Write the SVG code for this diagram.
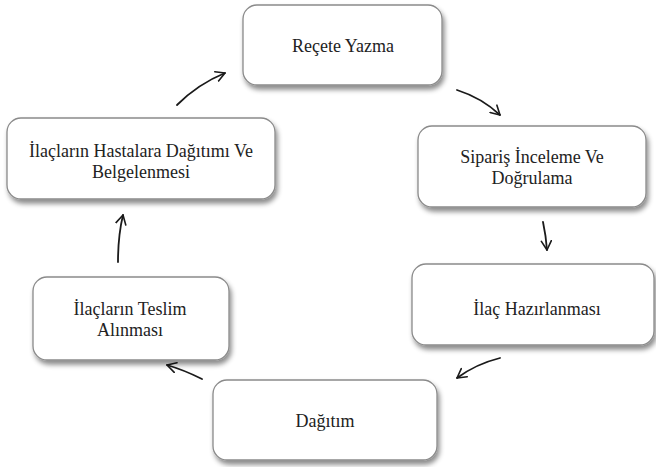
<svg xmlns="http://www.w3.org/2000/svg" width="656" height="467" viewBox="0 0 656 467">
<style>
.box{fill:#fff;stroke:#8a8a8a;stroke-width:1.3;filter:url(#sh)}
.t{font-size:18px;fill:#222;text-anchor:middle}
.c{fill:none;stroke:#1a1a1a;stroke-width:1.8;stroke-linecap:round;marker-end:url(#ah)}
</style>
<defs>
<filter id="sh" x="-10%" y="-10%" width="125%" height="140%">
<feDropShadow dx="2" dy="4" stdDeviation="2.5" flood-color="#000" flood-opacity="0.45"/>
</filter>
<marker id="ah" viewBox="0 0 12 12" refX="10" refY="6" markerWidth="12" markerHeight="12" orient="auto" markerUnits="userSpaceOnUse">
<path d="M1,1 L10,6 L1,11" fill="none" stroke="#1a1a1a" stroke-width="1.6" stroke-linecap="round" stroke-linejoin="round"/>
</marker>
</defs>
<rect width="656" height="467" fill="#fff"/>
<g id="connectors">
<path class="c" d="M177,105 Q198,84 225,73"/>
<path class="c" d="M457,90 Q482,98 500,115"/>
<path class="c" d="M543,222 Q546,236 547,250"/>
<path class="c" d="M500,358 Q476,364 457,378"/>
<path class="c" d="M202,379 Q184,370 167,365"/>
<path class="c" d="M118,262 Q118,236 123,215"/>
</g>
<g font-family="Liberation Serif, DejaVu Serif, serif">
<g id="n1"><rect class="box" x="243" y="5" width="199" height="80" rx="14"/><text class="t" x="343" y="52">Reçete Yazma</text></g>
<g id="n2"><rect class="box" x="418" y="126" width="228" height="81" rx="14"/><text class="t" x="532" y="163">Sipariş İnceleme  Ve</text><text class="t" x="532" y="184">Doğrulama</text></g>
<g id="n3"><rect class="box" x="412" y="264" width="242" height="81" rx="14"/><text class="t" x="537" y="315">İlaç Hazırlanması</text></g>
<g id="n4"><rect class="box" x="213" y="380" width="224" height="80" rx="14"/><text class="t" x="325" y="427">Dağıtım</text></g>
<g id="n5"><rect class="box" x="33" y="277" width="196" height="83" rx="14"/><text class="t" x="130" y="315">İlaçların Teslim</text><text class="t" x="130" y="336">Alınması</text></g>
<g id="n6"><rect class="box" x="7" y="118" width="268" height="81" rx="14"/><text class="t" x="141" y="157">İlaçların Hastalara Dağıtımı Ve</text><text class="t" x="141" y="178">Belgelenmesi</text></g>
</g>
</svg>
